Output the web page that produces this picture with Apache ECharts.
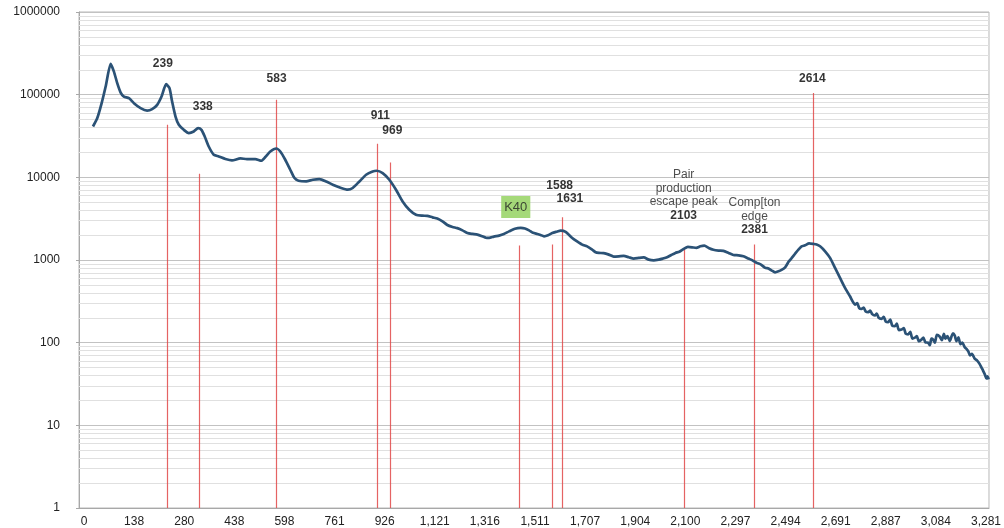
<!DOCTYPE html>
<html><head><meta charset="utf-8">
<script src="https://cdn.jsdelivr.net/npm/echarts@6/dist/echarts.min.js"></script>
<style>html,body{margin:0;padding:0;background:#fff}#c{width:1004px;height:528px}</style>
</head><body><div id="c"></div>
<script>
// x positions are in "label slot" units: label i sits at i*100
const xTickLabels = ['0','138','280','438','598','761','926','1,121','1,316','1,511','1,707','1,904','2,100','2,297','2,494','2,691','2,887','3,084','3,281'];

const spectrumX = [17.9,26.5,35.2,43.2,53.2,59.7,66.3,73.1,79.6,89.6,99.6,112.9,126.0,136.0,146.0,154.7,163.9,170.6,175.8,182.6,189.2,199.1,209.1,219.0,227.6,234.4,240.9,248.9,258.9,268.8,282.2,295.3,312.0,325.2,341.9,353.8,361.8,371.8,383.7,391.7,401.6,411.6,420.1,428.1,443.4,456.6,469.9,483.3,496.4,513.1,526.3,536.2,549.6,562.9,576.0,584.0,596.0,609.3,622.6,635.8,649.1,662.5,675.6,685,695.5,705,715.4,725,735.4,745,755.3,765,775.2,785,795.1,802,808.4,818,828.3,838,848.3,860,871.6,880,888.1,896,904.6,911,918.0,926,934.5,943,951.2,961.2,974.3,984,994.2,1004,1014.1,1021,1027.5,1037,1047.4,1057,1067.3,1077,1087.2,1097,1107.1,1117,1127.0,1137,1146.9,1155,1163.5,1172,1180.2,1188,1196.7,1205,1213.3,1222,1230.0,1238,1246.5,1256,1266.4,1276,1286.3,1296,1306.2,1316,1326.1,1334,1342.7,1351,1359.4,1366,1372.6,1379,1385.9,1392,1399.2,1406,1412.4,1419,1425.7,1432,1439.0,1447,1455.6,1462,1468.9,1478.9,1488.8,1498.8,1508.7,1518.7,1528.6,1538.6,1543,1547,1551.7,1556,1560,1565.1,1569,1573,1578.4,1582,1586,1591.6,1596,1600,1604.9,1609,1613,1618.3,1622,1626,1631.4,1636,1640,1644.8,1649,1653,1658.1,1662,1666,1671.3,1675,1679,1684.5,1688,1691,1694.5,1698,1702,1707.9,1712,1716,1719,1723,1727.8,1731,1734,1737.7,1741,1745,1749,1753,1757.6,1761,1765,1768,1772,1777.5,1782,1787.5,1791,1794.1,1798,1800.7,1803,1805.4];

const spectrumCounts = [41180,52110,78950,125300,235500,190100,137700,106000,94870,90730,78950,68710,64270,66830,75300,94870,133900,119800,82570,54390,43180,37570,34280,35840,39390,37570,31190,23620,18750,17880,16630,16000,16920,16630,16630,15870,17590,20550,22340,20550,16320,12350,9806,9095,8920,9354,9539,8920,8139,7428,7084,7428,8920,10750,11780,12010,11270,9354,7084,5116,4062,3534,3437,3420,3279,3180,2934,2650,2511,2430,2284,2120,2067,2030,1933,1860,1849,1920,1971,2060,2221,2390,2442,2400,2284,2130,2067,2010,1933,1990,2125,2200,2265,2185,1849,1680,1535,1460,1336,1240,1218,1210,1162,1100,1108,1120,1078,1040,1060,1075,1011,990,1011,1040,1078,1150,1218,1260,1362,1440,1424,1400,1464,1490,1400,1330,1299,1290,1218,1150,1140,1110,1040,990,923,880,803,790,745,710,730,760,816,950,1060,1190,1336,1460,1505,1590,1565,1540,1464,1274,1060,803,608,460,364,289,300,262,257,265,238,234,245,221,213,225,199,194,205,180,177,190,160,158,170,142,144,150,128,126,135,112,115,120,104,109,115,101,100,93,112,109,100,124,118,107,128,112,120,105,118,130,122,104,116,96,100,88,84,78,70,73,64,61,55,50,46,41,37,39,35.9];

// red reference lines: position and the count their top reaches
const markerX   = [165.9,229.6,383.7,586.0,610.7,868.8,933.9,954.4,1197.3,1337.5,1454.5];
const markerTop = [43180,11050,86530,25450,15140,1500,1535,3280,1400,1535,105000];

// annotations
const annotText = ['239','338','583','911','969','K40','1588','1631','Pair\nproduction\nescape peak\n2103','Comp[ton\nedge\n2381','2614'];
const annotX = [157.3,237,384.3,591.4,615.3,861.6,949.2,969.7,1196.7,1338.1,1453.6];
const annotY = [235500,71250,155200,55460,36840,4378,7983,5469,6044,3344,158200];

const FONT = '"Liberation Sans", Arial, Helvetica, sans-serif';
const chart = echarts.init(document.getElementById('c'), null, {renderer:'canvas'});

const minorVals = [];
for (let k = 0; k < 6; k++) for (let m = 2; m <= 9; m++) minorVals.push(m * Math.pow(10, k));

function annotLabel(t) {
  if (t === 'K40') {
    return {show:true, position:'inside', formatter:t, color:'#222', fontSize:13, fontFamily:FONT,
      backgroundColor:'#8fcf58', padding:[5,3,4,3]};
  }
  const lines = t.split('\n');
  if (lines.length === 1) {
    return {show:true, position:'inside', formatter:t, color:'#000', fontSize:12, fontWeight:'bold', fontFamily:FONT};
  }
  const parts = lines.map((l, i) => i === lines.length - 1 ? '{b|' + l + '}' : '{n|' + l + '}');
  return {show:true, position:'inside', formatter:parts.join('\n'), align:'center',
    rich:{
      n:{fontSize:12, color:'#222', fontFamily:FONT, lineHeight:13.5, align:'center'},
      b:{fontSize:12, color:'#000', fontWeight:'bold', fontFamily:FONT, lineHeight:13.5, align:'center'}
    }};
}

const option = {
  animation:false,
  backgroundColor:'#fff',
  grid:{left:79, right:13, top:12, bottom:19, show:true, borderColor:'#b8b8b8', borderWidth:1},
  xAxis:{
    type:'value', min:-10, max:1806,
    axisLine:{show:true, onZero:false, lineStyle:{color:'#a8a8a8'}},
    axisTick:{show:false},
    splitLine:{show:false},
    axisLabel:{
      customValues: xTickLabels.map((_, i) => i * 100),
      formatter: v => xTickLabels[Math.round(v / 100)],
      color:'#222', fontSize:12, fontFamily:FONT, margin:8, hideOverlap:false
    }
  },
  yAxis:{
    type:'log', logBase:10, min:1, max:1000000, splitNumber:6,
    axisLine:{show:true, onZero:false, lineStyle:{color:'#a8a8a8'}},
    axisTick:{show:true, length:3, lineStyle:{color:'#a8a8a8'}},
    splitLine:{show:true, lineStyle:{color:'#c2c2c2', width:1}},
    axisLabel:{color:'#222', fontSize:12, fontFamily:FONT, margin:19, formatter: v => String(Math.round(v))}
  },
  series:[
    {
      type:'line', data:[], z:1, silent:true,
      markLine:{silent:true, z:1, symbol:['none','none'], animation:false, label:{show:false},
        lineStyle:{color:'#e0e0e0', type:'solid', width:1},
        emphasis:{disabled:true},
        data: minorVals.map(v => ({yAxis:v}))}
    },
    {
      type:'line', data:[], z:2, silent:true,
      markLine:{silent:true, z:2, symbol:['none','none'], animation:false, label:{show:false},
        lineStyle:{color:'#e04848', type:'solid', width:1.2, opacity:0.85},
        emphasis:{disabled:true},
        data: markerX.map((x, i) => [{coord:[x, 1]}, {coord:[x, markerTop[i]]}])}
    },
    {
      type:'line', z:3, showSymbol:false, smooth:0.2,
      lineStyle:{color:'#2b5276', width:2.7},
      data: spectrumX.map((x, i) => [x, spectrumCounts[i]])
    },
    {
      type:'scatter', z:4, symbolSize:0, silent:true,
      data: annotText.map((t, i) => ({value:[annotX[i], annotY[i]], label:annotLabel(t)}))
    }
  ]
};
chart.setOption(option);
</script>
</body></html>
